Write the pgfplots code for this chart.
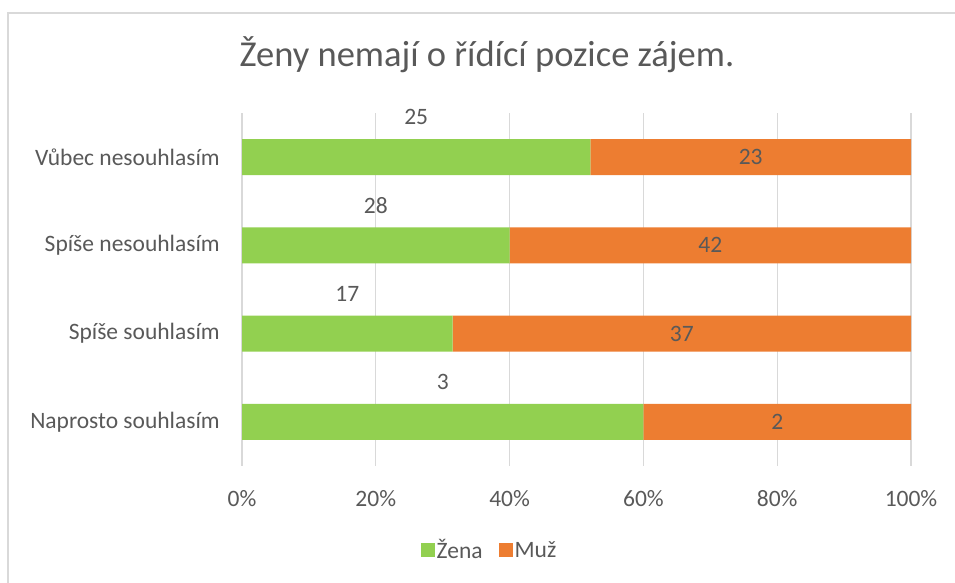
\documentclass[border=0pt]{standalone}
\usepackage{pgfplots}
\pgfplotsset{compat=1.18}
\usepackage{fontspec}
\setmainfont{Carlito}
\definecolor{zena}{HTML}{92D050}
\definecolor{muz}{HTML}{ED7D31}
\definecolor{txt}{HTML}{595959}
\definecolor{gridc}{HTML}{D9D9D9}
\newcommand{\lblfont}{\fontsize{23.5bp}{28bp}\selectfont}
\begin{document}
\begin{tikzpicture}[x=1bp,y=1bp]
\path[use as bounding box] (0,0) rectangle (955,583);
\draw[gridc, line width=1.5bp] (8,0) -- (8,570) -- (955,570);
\node[text=txt, anchor=base, font=\fontsize{36.5bp}{44bp}\selectfont] at (487,516) {Ženy nemají o řídící pozice zájem.};
\begin{axis}[
  at={(242bp,117bp)}, anchor=south west, scale only axis,
  width=669bp, height=353bp,
  xmin=0, xmax=100, ymin=-0.5, ymax=3.5,
  xbar stacked, bar width=0.41,
  axis line style={draw=none},
  major tick length=0,
  xmajorgrids, grid style={gridc, line width=1.2bp},
  xtick={0,20,40,60,80,100},
  xticklabel={\pgfmathprintnumber{\tick}\%},
  ytick={0,1,2,3},
  yticklabels={Naprosto souhlasím, Spíše souhlasím, Spíše nesouhlasím, Vůbec nesouhlasím},
  /pgf/number format/assume math mode=true,
  ticklabel style={font=\lblfont, text=txt, inner sep=0pt},
  yticklabel style={xshift=-22bp},
  xticklabel style={yshift=-24bp},
  legend style={at={(0.37,-0.238)}, anchor=center, draw=none, fill=none,
    legend columns=2, font=\lblfont, text=txt,
    /tikz/every even column/.append style={column sep=14bp},
    legend cell align=left},
  legend image code/.code={\fill[#1] (0bp,-7bp) rectangle (14bp,7bp);},
]
\addplot[fill=zena, draw=none] coordinates {(60,0) (31.48,1) (40,2) (52.08,3)};
\addplot[fill=muz, draw=none] coordinates {(40,0) (68.52,1) (60,2) (47.92,3)};
\legend{Žena, Muž}
\end{axis}
\begin{axis}[
  at={(242bp,117bp)}, anchor=south west, scale only axis,
  width=669bp, height=353bp,
  xmin=0, xmax=100, ymin=-0.5, ymax=3.5,
  hide axis, clip=false,
  nodes near coords, point meta=explicit symbolic,
  every node near coord/.append style={anchor=center, font=\lblfont, text=txt},
]
\addplot[draw=none, mark=none] table[meta=l] {
x y l
26.04 3.45 25
20.00 2.45 28
15.74 1.45 17
30.00 0.45 3
};
\addplot[draw=none, mark=none] table[meta=l] {
x y l
76.04 3 23
70.00 2 42
65.74 1 37
80.00 0 2
};
\end{axis}
\end{tikzpicture}
\end{document}
